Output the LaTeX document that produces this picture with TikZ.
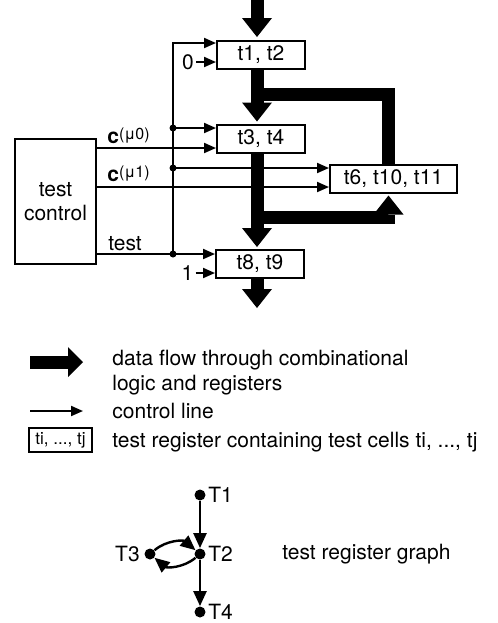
\documentclass[tikz,border=0pt]{standalone}
\usepackage{fontspec}
\setmainfont{TeX Gyre Heros}
\usepackage{tikz}
\usetikzlibrary{arrows.meta, positioning, calc}

\newcommand{\ctrlsig}[1]{\textbf{c}{\fontsize{8}{9}\selectfont\raisebox{0.5ex}{(#1)}}}

\begin{document}
\begin{tikzpicture}[
    x=0.5pt, y=-0.5pt,
    font=\fontsize{10.5}{12}\selectfont,
    reg/.style={rectangle, draw, line width=1pt, minimum width=44pt, minimum height=14pt, inner sep=0pt},
    ctrl/.style={-{Triangle[length=6pt, width=5pt]}, line width=1pt},
    flowline/.style={line width=6.5pt},
    flow/.style={flowline, -{Triangle[length=9.5pt, width=15pt, line width=0pt]}},
    tap/.style={circle, fill, inner sep=0pt, minimum size=3.5pt},
    vertex/.style={circle, fill, inner sep=0pt, minimum size=5.5pt},
    garrow/.style={-{Triangle[length=7.5pt, width=6.5pt]}, line width=1.2pt}
]
\useasboundingbox (0,0) rectangle (498,623);

% Test registers
\node[reg] (t12) at (261,55) {t1, t2};
\node[reg] (t34) at (261,138.5) {t3, t4};
\node[reg, minimum width=63.5pt] (t6) at (393.5,178.5) {t6, t10, t11};
\node[reg] (t89) at (260,264) {t8, t9};
\node[reg, minimum width=40.5pt, minimum height=62.5pt, align=center,
      font=\fontsize{10.5}{12}\selectfont] (tc) at (55.5,201.5) {test\\control};

% Data flow
\coordinate (in) at (257,0);
\coordinate (out) at (257,308);
\coordinate (split1) at (257,94);
\coordinate (split2) at (257,217);
\coordinate (rx) at (388.5,0);
\draw[flow, shorten >=1.5pt] (in) -- (in |- t12.north);
\draw[flow, shorten >=1pt] (t12.south -| in) -- (t34.north -| in);
\draw[flowline] (split1) -| (t6.north -| rx);
\draw[flow, shorten >=1pt] (t34.south -| in) -- (t89.north -| in);
\draw[flow, shorten >=1pt] (split2) -| (t6.south -| rx);
\draw[flow] (t89.south -| in) -- (out);

% Control lines
\foreach \name/\y in {tap1/128, tap2/168, tap3/254}
    \node[tap] (\name) at (173,\y) {};
\coordinate (bustop) at (173,43);
\coordinate (c0) at (tc.east |- 0,148);
\coordinate (c1) at (tc.east |- 0,187);
\draw[ctrl] (tap3.center) -- (bustop) -- (bustop -| t12.west);
\draw[ctrl] (tap1.center) -- (tap1 -| t34.west);
\draw[ctrl] (tap2.center) -- (tap2 -| t6.west);
\draw[ctrl] (tc.east |- tap3) -- (tap3 -| t89.west);
\draw[ctrl] (c0) -- (c0 -| t34.west);
\draw[ctrl] (c1) -- (c1 -| t6.west);
\node[anchor=west, inner sep=0pt] (c0lab) at (107,136) {\ctrlsig{μ0}};
\node[anchor=west, inner sep=0pt] (c1lab) at (107,174) {\ctrlsig{μ1}};
\node[anchor=west, inner sep=0pt] (testlab) at (108,244) {test};
\node[inner sep=1pt] (zero) at (188,62) {0};
\node[inner sep=1pt] (one) at (187.5,273) {1};
\draw[ctrl] (zero) -- (zero -| t12.west);
\draw[ctrl] (one) -- (one -| t89.west);

% Legend
\coordinate (k1a) at (30,362);
\coordinate (k1b) at (83,362);
\coordinate (k2a) at (30,411);
\coordinate (k2b) at (83,411);
\draw[flowline, -{Triangle[length=7.5pt, width=15pt, line width=0pt]}] (k1a) -- (k1b);
\draw[ctrl] (k2a) -- (k2b);
\node[anchor=west, inner sep=0pt] (leg1) at (112,360) {data flow through combinational};
\node[anchor=west, inner sep=0pt] (leg1b) at (112,385) {logic and registers};
\node[anchor=west, inner sep=0pt] (leg2) at (112,411) {control line};
\node[reg, minimum width=31.5pt, minimum height=12pt, font=\fontsize{8.5}{10}\selectfont] (legreg) at (60.5,440) {ti, ..., tj};
\node[anchor=west, inner sep=0pt] (leg3) at (112,442) {test register containing test cells ti, ..., tj};

% Test register graph
\node[vertex, label={[inner sep=1pt]right:T1}] (T1) at (200,495) {};
\node[vertex, label={[inner sep=1pt]right:T2}] (T2) at (200,554) {};
\node[vertex, label={[inner sep=2pt]left:T3}] (T3) at (150,554) {};
\node[vertex, label={[inner sep=1pt]right:T4}] (T4) at (200,612) {};
\draw[garrow] (T1) -- (T2);
\draw[garrow] (T2) -- (T4);
\draw[garrow] (T3) to[bend left=40] (T2);
\draw[garrow] (T2) to[bend left=40] (T3);
\node[anchor=west, inner sep=0pt] (graphlab) at (282,554) {test register graph};
\end{tikzpicture}
\end{document}
